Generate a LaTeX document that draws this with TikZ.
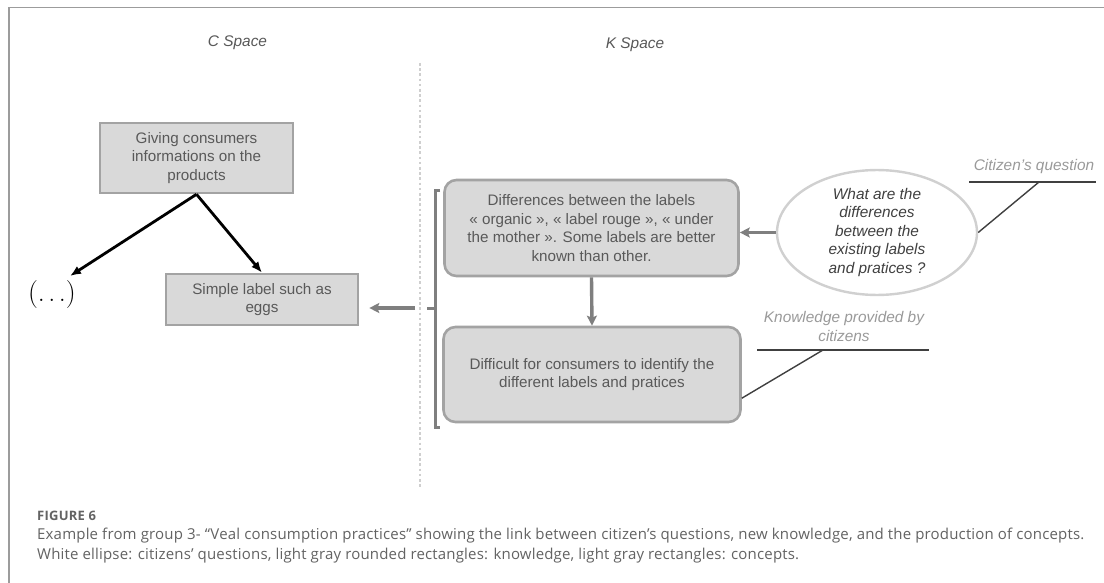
\documentclass[tikz,border=0pt]{standalone}
\usepackage{fontspec}
\newfontfamily\arialf{Liberation Sans}
\newfontfamily\capfont[LetterSpace=1.2]{Open Sans}
\newfontfamily\figfont[LetterSpace=2]{Open Sans}
\usetikzlibrary{arrows.meta,shapes.geometric}
\definecolor{boxfill}{HTML}{D9D9D9}
\definecolor{boxline}{HTML}{A3A3A3}
\definecolor{txtgray}{HTML}{595959}
\definecolor{arrgray}{HTML}{7F7F7F}
\definecolor{ellline}{HTML}{D0D0D0}
\definecolor{lblgray}{HTML}{9A9A9A}
\definecolor{capgray}{HTML}{636363}
\definecolor{framegray}{HTML}{9C9C9C}
\definecolor{dotgray}{HTML}{CFCFCF}
\begin{document}
\begin{tikzpicture}[x=1pt,y=-1pt,
  dfont/.style={font=\arialf\fontsize{15.2}{18.5}\selectfont},
  concept/.style={dfont, draw=boxline, line width=2.6pt, fill=boxfill, text=txtgray,
    align=center, inner sep=0pt},
  know/.style={dfont, draw=boxline, line width=2.6pt, fill=boxfill, text=txtgray,
    align=center, rounded corners=12pt, inner sep=0pt},
  quest/.style={dfont, ellipse, draw=ellline, line width=2.4pt, fill=white, text=black!75,
    align=center, inner sep=0pt},
  spacelbl/.style={font=\arialf\itshape\fontsize{15.4}{18.5}\selectfont, text=txtgray},
  annlbl/.style={font=\arialf\itshape\fontsize{15.4}{18.5}\selectfont, text=lblgray, align=center, inner sep=0pt},
  blackarr/.style={line width=2.8pt, black, -{Latex[length=11pt,width=9pt]}},
  grayarr/.style={line width=3.4pt, arrgray, -{Stealth[length=10pt,width=10pt,inset=2pt]}},
  annline/.style={line width=1.4pt, black!75},
  capt/.style={font=\capfont\fontsize{15}{20}\selectfont, text=capgray, anchor=west, inner sep=0pt}
]
\useasboundingbox (0,0) rectangle (1104,583);
\fill[white] (0,0) rectangle (1104,583);
% frame
\draw[framegray, line width=1.5pt] (9,583) -- (9,7.5) -- (1104,7.5);
% dotted separator
\draw[dotgray, line width=2.6pt, dash pattern=on 2.6pt off 2.6pt] (420,63) -- (420,487);

% space titles
\node[spacelbl] (cspace) at (237.5,43) {C Space};
\node[spacelbl] (kspace) at (635,45) {K Space};

% concept boxes
\node[concept, minimum width=193pt, minimum height=70pt] (giving) at (196.5,158)
  {Giving consumers\\informations on the\\products};
\node[concept, minimum width=192pt, minimum height=51pt] (simple) at (262,299.5)
  {Simple label such as\\eggs};
\node[font=\fontsize{28}{32}\selectfont, inner sep=0pt] (dots) at (52,295)
  {(.\kern3.5pt.\kern3.5pt.)};
\coordinate (dtip) at (70,276);

% knowledge boxes
\node[know, minimum width=294pt, minimum height=96pt] (k1) at (591.5,228)
  {Differences between the labels\\« organic », « label rouge », « under\\the mother ». Some labels are better\\known than other.};
\node[know, minimum width=297pt, minimum height=95pt] (k2) at (592,374.5)
  {Difficult for consumers to identify the\\different labels and pratices};

% question ellipse
\node[quest, minimum width=200pt, minimum height=124pt, font=\arialf\itshape\fontsize{15.4}{18.5}\selectfont] (q) at (877,232.5)
  {What are the\\differences\\between the\\existing labels\\and pratices ?};

% annotation labels
\node[annlbl] (cq) at (1034,167) {Citizen’s question};
\coordinate (cqL) at (969,182);
\coordinate (cqR) at (1096,182);
\coordinate (cqA) at (1039,182);
\draw[annline] (cqL) -- (cqR);
\draw[annline] (cqA) -- (q.east);

\node[annlbl] (kp) at (844,326.5) {Knowledge provided by\\citizens};
\coordinate (kpL) at (757,350);
\coordinate (kpR) at (929,350);
\coordinate (kpA) at (823,350);
\draw[annline] (kpL) -- (kpR);
\draw[annline] (kpA) -- (k2.-9);

% black arrows
\draw[blackarr] (giving.south) -- (dtip);
\draw[blackarr] (giving.south) -- (simple.north);

% bracket
\coordinate (brT) at (435,191);
\coordinate (brB) at (435,427);
\coordinate (brM) at (435,308);
\coordinate (brS) at (415,308);
\draw[arrgray, line width=3pt] ([xshift=5pt]brT) -- (brT) -- (brB) -- ([xshift=5pt]brB);
\draw[arrgray, line width=3pt] (brM) -- ([xshift=-8pt]brM);

% gray arrows
\draw[grayarr, shorten >=10pt] (brS) -- (brS -| simple.east);
\draw[grayarr] (k1.south) -- (k2.north);
\draw[grayarr] (q.west) -- (q.west -| k1.east);

% caption
\node[capt, font=\figfont\bfseries\fontsize{13}{14}\selectfont] (fig) at (37,516) {FIGURE 6};
\node[capt] (cap1) at (37,536) {Example from group 3- “Veal consumption practices” showing the link between citizen’s questions, new knowledge, and the production of concepts.};
\node[capt] (cap2) at (37,555.5) {White ellipse: citizens’ questions, light gray rounded rectangles: knowledge, light gray rectangles: concepts.};
\end{tikzpicture}
\end{document}
